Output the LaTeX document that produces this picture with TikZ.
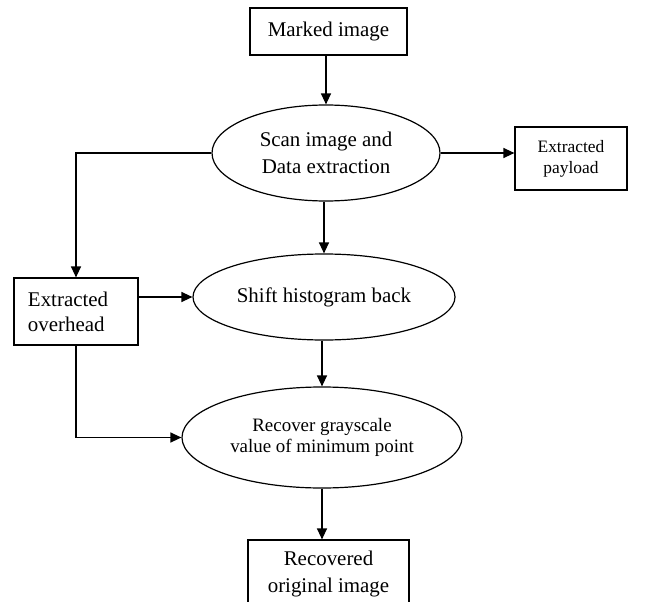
\documentclass[tikz,border=0pt]{standalone}
\usepackage{fontspec}
\setmainfont{Liberation Serif}
\usetikzlibrary{shapes.geometric,arrows.meta}
\begin{document}
\begin{tikzpicture}[x=1bp,y=-1bp,
  box/.style={draw,line width=1.2bp,rectangle,inner sep=0pt,align=center},
  oval/.style={draw,line width=1.2bp,ellipse,inner sep=0pt,align=center},
  conn/.style={line width=1.3bp,-{Triangle[length=11bp,width=10bp]}},
  big/.style={font=\fontsize{21}{27}\selectfont},
  mid/.style={font=\fontsize{19}{21}\selectfont},
  small/.style={font=\fontsize{17.5}{21}\selectfont}]
\path[use as bounding box] (0,0) rectangle (647,602);
\clip (0,0) rectangle (647,602);
\node[box,big,minimum width=157bp,minimum height=47bp] (marked) at (328.5,31.5) {Marked image};
\node[oval,big,minimum width=228bp,minimum height=96bp] (scan) at (326,153) {Scan image and\\Data extraction};
\node[box,small,minimum width=112bp,minimum height=63bp] (payload) at (571,158.5) {Extracted\\payload};
\node[box,big,text width=96bp,inner xsep=14bp,minimum height=67bp,align=left,font=\fontsize{21}{25}\selectfont] (overhead) at (76,311.5) {Extracted\\overhead};
\node[oval,big,minimum width=262bp,minimum height=86bp] (shift) at (324,297) {Shift histogram back};
\node[oval,mid,minimum width=280bp,minimum height=101bp] (recover) at (322,437.5) {Recover grayscale\\value of minimum point};
\node[box,big,minimum width=161bp,minimum height=68bp] (recovered) at (328.5,574) {Recovered\\original image};
\draw[conn] (marked.south -| scan.north) -- (scan.north);
\draw[conn] (scan.east) -- (payload.west |- scan.east);
\draw[conn] (scan.west) -| (overhead.north);
\draw[conn] (overhead.east |- shift.west) -- (shift.west);
\draw[conn] (scan.south -| shift.north) -- (shift.north);
\draw[conn] (overhead.south) |- (recover.west);
\draw[conn] (shift.south -| recover.north) -- (recover.north);
\draw[conn] (recover.south) -- (recover.south |- recovered.north);
\end{tikzpicture}
\end{document}
